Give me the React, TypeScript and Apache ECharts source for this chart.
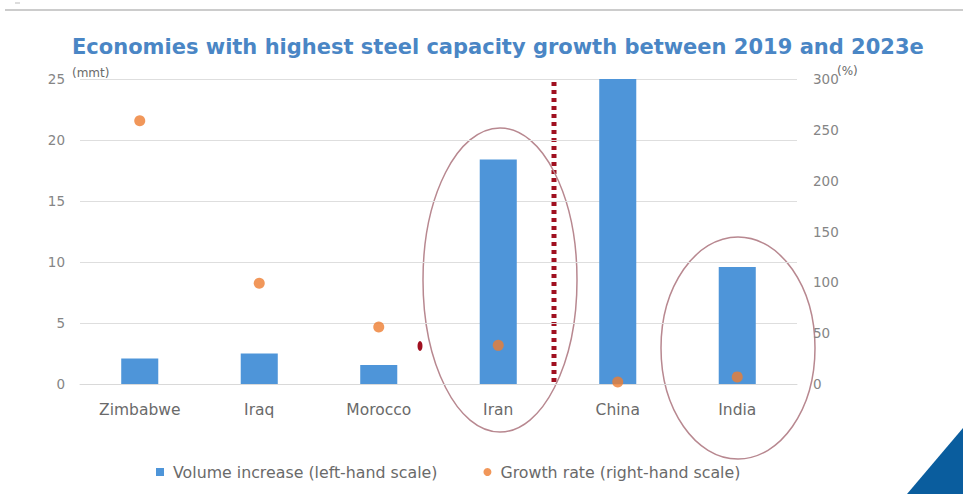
import React, { useEffect, useRef } from "react";
import * as echarts from "echarts";

const categories = ["Zimbabwe", "Iraq", "Morocco", "Iran", "China", "India"];
const volumeIncrease = [2.1, 2.5, 1.55, 18.4, 25, 9.6];
const growthRate = [259, 99, 56, 38, 2, 7];
const leftTicks = [0, 5, 10, 15, 20, 25];
const rightTicks = [0, 50, 100, 150, 200, 250, 300];
const leftUnit = "(mmt)";
const rightUnit = "(%)";

export default function App() {
  const ref = useRef<HTMLDivElement>(null);
  useEffect(() => {
    if (!ref.current) return;
    const chart = echarts.init(ref.current, null, { renderer: "svg" });
    const gridLeft = 80;
    const gridRight = 963 - 797;
    const gridTop = 79;
    const gridBottom = 494 - 384;
    chart.setOption({
      animation: false,
      backgroundColor: "#ffffff",
      title: {
        text: "Economies with highest steel capacity growth between 2019 and 2023e",
        left: 67,
        top: 31,
        textStyle: {
          color: "#4A86C5",
          fontFamily: "DejaVu Sans",
          fontWeight: "bold",
          fontSize: 21,
        },
      },
      legend: {
        top: 459,
        left: 151,
        itemGap: 46,
        itemWidth: 8,
        itemHeight: 8,
        textStyle: { color: "#6a6a6a", fontFamily: "DejaVu Sans", fontSize: 15.8, padding: [0, 0, 0, 4] },
        data: [
          { name: "Volume increase (left-hand scale)", icon: "rect" },
          { name: "Growth rate (right-hand scale)", icon: "circle" },
        ],
      },
      grid: { left: gridLeft, right: gridRight, top: gridTop, bottom: gridBottom },
      xAxis: {
        type: "category",
        data: categories,
        axisLine: { show: true, lineStyle: { color: "#d9d9d9" } },
        axisTick: { show: false },
        axisLabel: { color: "#6a6a6a", fontFamily: "DejaVu Sans", fontSize: 15.5, margin: 18 },
      },
      yAxis: [
        {
          type: "value",
          min: 0,
          max: 25,
          interval: 5,
          axisLine: { show: false },
          axisTick: { show: false },
          axisLabel: { color: "#858585", fontFamily: "DejaVu Sans", fontSize: 13.5, margin: 15, formatter: (v: number) => (leftTicks.includes(v) ? String(v) : "") },
          splitLine: { show: true, lineStyle: { color: "#dedede", width: 1 } },
        },
        {
          type: "value",
          min: 0,
          max: 300,
          interval: 50,
          axisLine: { show: false },
          axisTick: { show: false },
          axisLabel: { color: "#858585", fontFamily: "DejaVu Sans", fontSize: 13.5, margin: 16, formatter: (v: number) => (rightTicks.includes(v) ? String(v) : "") },
          splitLine: { show: false },
        },
      ],
      series: [
        {
          name: "Volume increase (left-hand scale)",
          type: "bar",
          data: volumeIncrease,
          yAxisIndex: 0,
          barWidth: "31%",
          itemStyle: { color: "#4E95D9" },
        },
        {
          name: "Growth rate (right-hand scale)",
          type: "scatter",
          data: growthRate,
          yAxisIndex: 1,
          symbolSize: 11,
          itemStyle: { color: "#ED7D31" },
        },
      ],
      graphic: [
        { type: "line", shape: { x1: 5, y1: 10, x2: 963, y2: 10 }, style: { stroke: "#cccccc", lineWidth: 2 } },
        { type: "line", shape: { x1: 15, y1: 3, x2: 20, y2: 3 }, style: { stroke: "#bbbbbb", lineWidth: 1 } },
        { type: "text", x: 72, y: 73, style: { text: leftUnit, fill: "#6a6a6a", fontFamily: "DejaVu Sans", fontSize: 12, verticalAlign: "middle" } },
        { type: "text", x: 837, y: 71, style: { text: rightUnit, fill: "#6a6a6a", fontFamily: "DejaVu Sans", fontSize: 12, verticalAlign: "middle" } },
        { type: "line", shape: { x1: 554, y1: 82, x2: 554, y2: 384 }, style: { stroke: "#A01020", lineWidth: 5, lineDash: [4, 4] } },
        { type: "ellipse", shape: { cx: 420, cy: 346, rx: 2.5, ry: 5 }, style: { fill: "#A01020" } },
        { type: "ellipse", shape: { cx: 500, cy: 280, rx: 77, ry: 152 }, style: { fill: "none", stroke: "#B88890", lineWidth: 1.5 } },
        { type: "ellipse", shape: { cx: 738, cy: 348, rx: 77, ry: 111 }, style: { fill: "none", stroke: "#B88890", lineWidth: 1.5 } },
        { type: "polygon", shape: { points: [[963, 428], [963, 494], [907, 494]] }, style: { fill: "#0A5D9E" } },
      ],
    });
    return () => chart.dispose();
  }, []);
  return <div ref={ref} style={{ width: 963, height: 494, position: "absolute", left: 0, top: 0 }} />;
}
